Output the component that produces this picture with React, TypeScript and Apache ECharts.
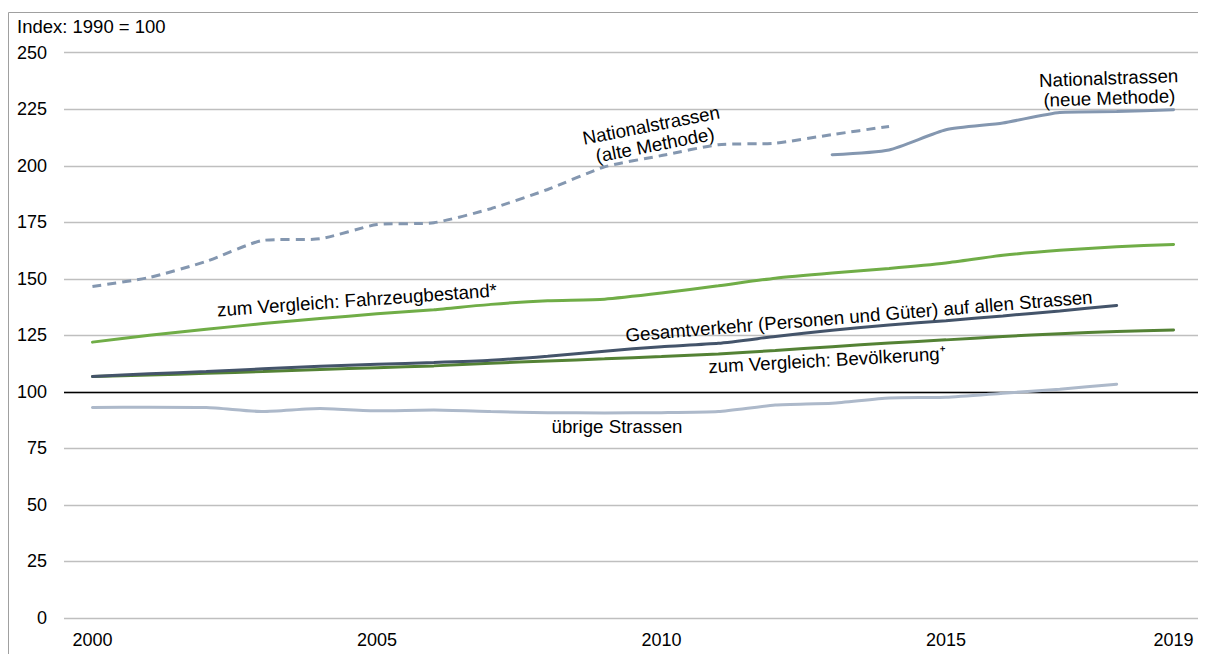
import React, { useEffect, useRef } from "react";
import * as echarts from "echarts";

const years = ["2000","2001","2002","2003","2004","2005","2006","2007","2008","2009","2010","2011","2012","2013","2014","2015","2016","2017","2018","2019"];
const nationalAlt = [146.6,150.6,157.7,167.0,167.7,174.0,174.8,181.0,189.5,199.5,204.5,209.3,210.0,213.8,217.4,null,null,null,null,null];
const nationalNeu = [null,null,null,null,null,null,null,null,null,null,null,null,null,204.9,207.0,215.9,218.9,223.6,224.0,224.8];
const fahrzeug = [122.0,125.0,127.7,130.2,132.4,134.5,136.3,138.7,140.3,141.0,143.7,146.9,150.3,152.6,154.6,157.0,160.4,162.6,164.2,165.2];
const gesamt = [106.8,108.0,109.0,110.2,111.3,112.2,113.0,114.0,115.8,118.0,120.0,121.5,124.5,127.3,129.6,131.5,133.6,135.8,138.2,null];
const bevoelkerung = [106.8,107.5,108.2,109.0,109.9,110.7,111.5,112.7,113.7,114.6,115.6,116.8,118.3,120.0,121.6,123.0,124.5,125.7,126.7,127.4];
const uebrige = [93.1,93.2,93.1,91.3,92.6,91.6,92.0,91.3,90.8,90.7,90.8,91.3,94.2,95.0,97.3,97.6,99.4,101.2,103.4,null];
const yTicks = { min: 0, max: 250, interval: 25 };

const FONT = "Liberation Sans, Arial, sans-serif";

export default function App() {
  const ref = useRef<HTMLDivElement>(null);
  useEffect(() => {
    if (!ref.current) return;
    document.documentElement.style.overflow = "hidden";
    document.body.style.overflow = "hidden";
    const chart = echarts.init(ref.current, null, { renderer: "svg" });
    const deg = Math.PI / 180;
    const txt = (text: string, x: number, y: number, rot: number, size = 18.7) => ({
      type: "text",
      x, y, rotation: rot * deg,
      style: { text, x: 0, y: 0, align: "center", verticalAlign: "middle", fill: "#000", font: `${size}px ${FONT}`, lineHeight: 20 },
      z: 100,
    });
    const line = (name: string, data: any[], color: string, extra: any = {}) => ({
      name, type: "line", data, symbol: "none", smooth: 0.2, connectNulls: false,
      lineStyle: { color, width: 3, cap: "round" }, z: 3, ...extra,
    });
    const border = { stroke: "#A0A0A0", lineWidth: 1 };
    chart.setOption({
      animation: false,
      grid: { left: 56, right: 4, top: 44.7, bottom: 36, containLabel: false },
      xAxis: {
        type: "category", data: years, boundaryGap: true,
        axisLine: { show: false }, axisTick: { show: false },
        axisLabel: { interval: (i: number) => i % 5 === 0 || i === years.length - 1, color: "#000", fontSize: 18, fontFamily: FONT, margin: 13 },
        splitLine: { show: false },
      },
      yAxis: {
        type: "value", min: yTicks.min, max: yTicks.max, interval: yTicks.interval,
        axisLine: { show: false }, axisTick: { show: false },
        axisLabel: { color: "#000", fontSize: 18, fontFamily: FONT, margin: 17 },
        splitLine: { lineStyle: { color: "#BFBFBF", width: 1.3 } },
      },
      series: [
        line("übrige Strassen", uebrige, "#ADB9CA", {
          markLine: { silent: true, symbol: "none", label: { show: false }, lineStyle: { color: "#000", width: 1.3, type: "solid" }, data: [{ yAxis: 100 }], z: 2 },
        }),
        line("Bevölkerung", bevoelkerung, "#548235"),
        line("Gesamtverkehr", gesamt, "#44546A"),
        line("Fahrzeugbestand", fahrzeug, "#70AD47"),
        line("Nationalstrassen alt", nationalAlt, "#8497B0", { lineStyle: { color: "#8497B0", width: 3, type: [9, 6] } }),
        line("Nationalstrassen neu", nationalNeu, "#8497B0"),
      ],
      graphic: [
        { type: "line", shape: { x1: 0.5, y1: 4.5, x2: 1198, y2: 4.5 }, style: border, z: 0, silent: true },
        { type: "line", shape: { x1: 0.5, y1: 4.5, x2: 0.5, y2: 646 }, style: border, z: 0, silent: true },
        { type: "text", x: 9, y: 18, style: { text: "Index: 1990 = 100", fill: "#000", font: `18.5px ${FONT}`, verticalAlign: "middle", align: "left" }, z: 100 },
        txt("Nationalstrassen\n(alte Methode)", 645, 127, 11),
        txt("Nationalstrassen\n(neue Methode)", 1101, 80, 2),
        txt("zum Vergleich: Fahrzeugbestand*", 349, 292, 4.1),
        txt("Gesamtverkehr (Personen und Güter) auf allen Strassen", 851, 308, 4.7),
        txt("zum Vergleich: Bevölkerung\u207A", 819, 352, 3.2),
        txt("übrige Strassen", 609, 418, 0),
      ],
    });
    return () => chart.dispose();
  }, []);
  return <div ref={ref} style={{ width: 1198, height: 646 }} />;
}
